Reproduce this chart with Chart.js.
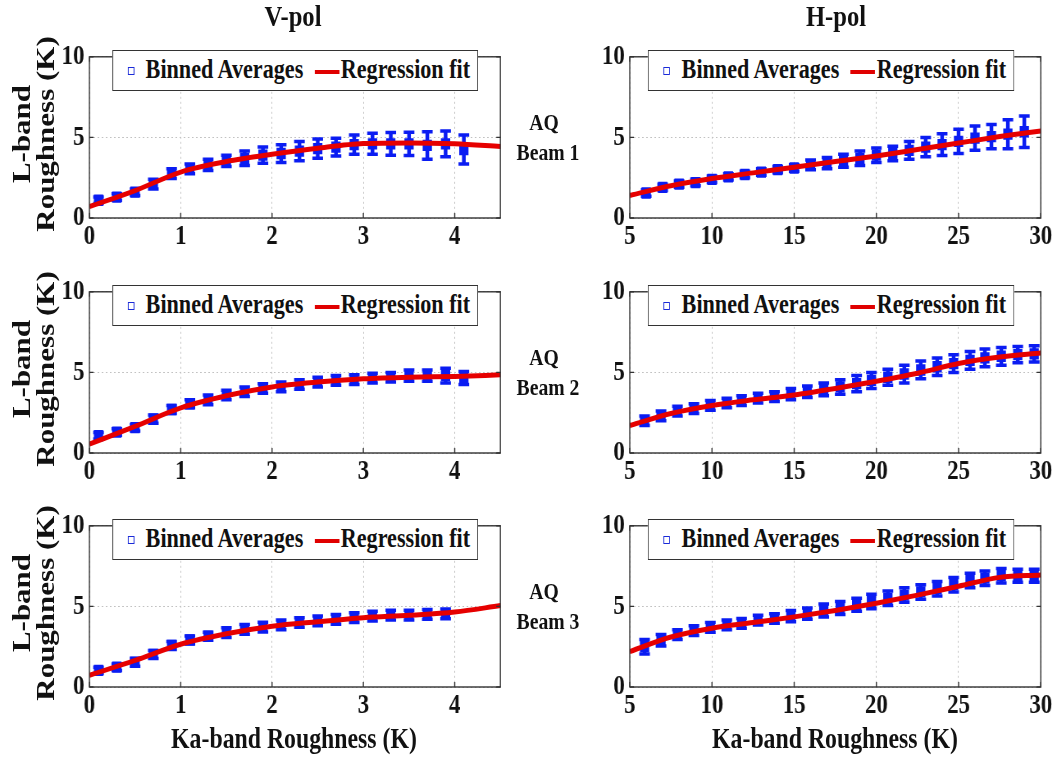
<!DOCTYPE html>
<html>
<head>
<meta charset="utf-8">
<script src="https://cdn.jsdelivr.net/npm/chart.js@4.4.1/dist/chart.umd.min.js"></script>
<style>
  html, body { margin: 0; padding: 0; background: #fff; overflow: hidden; }
  #fig { position: relative; height: 761px; transform: scaleX(0.82); transform-origin: 0 0; }
  .panel { position: absolute; }
  .txt { position: absolute; white-space: nowrap; font-family: 'Liberation Serif', 'Times New Roman', serif; font-weight: bold; color: #111; }
  .legend { position: absolute; background: #fff; border: 1px solid #333; box-sizing: border-box; }
  .legend .mk { position: absolute; width: 6px; height: 6px; border: 1px solid #1a2ad8; }
  .legend .ln { position: absolute; height: 4px; background: #e00000; }
</style>
</head>
<body>
<div id="fig"></div>
<script>
// V-pol bins (Ka-band roughness, K)
const vBinX12 = [0.1, 0.3, 0.5, 0.7, 0.9, 1.1, 1.3, 1.5, 1.7, 1.9, 2.1, 2.3, 2.5, 2.7, 2.9, 3.1, 3.3, 3.5, 3.7, 3.9, 4.1];
const vBinX3 = [0.1, 0.3, 0.5, 0.7, 0.9, 1.1, 1.3, 1.5, 1.7, 1.9, 2.1, 2.3, 2.5, 2.7, 2.9, 3.1, 3.3, 3.5, 3.7, 3.9];
const vB1Avg = [1.1, 1.3, 1.6, 2.1, 2.75, 3.05, 3.3, 3.55, 3.7, 3.9, 4.0, 4.15, 4.3, 4.4, 4.55, 4.6, 4.6, 4.6, 4.5, 4.6, 4.25];
const vB1Err = [0.2, 0.2, 0.2, 0.3, 0.3, 0.3, 0.35, 0.35, 0.45, 0.5, 0.55, 0.6, 0.6, 0.55, 0.6, 0.65, 0.7, 0.72, 0.85, 0.8, 0.9];
const vB2Avg = [1.07, 1.3, 1.57, 2.1, 2.7, 3.05, 3.3, 3.6, 3.8, 4.0, 4.1, 4.25, 4.4, 4.5, 4.55, 4.65, 4.7, 4.8, 4.8, 4.8, 4.65];
const vB2Err = [0.2, 0.2, 0.2, 0.25, 0.25, 0.25, 0.3, 0.3, 0.3, 0.3, 0.3, 0.3, 0.3, 0.3, 0.3, 0.3, 0.3, 0.35, 0.35, 0.45, 0.4];
const vB3Avg = [1.03, 1.23, 1.53, 2.02, 2.58, 2.92, 3.15, 3.37, 3.57, 3.71, 3.85, 4.0, 4.1, 4.2, 4.3, 4.4, 4.46, 4.46, 4.5, 4.54];
const vB3Err = [0.2, 0.2, 0.25, 0.25, 0.25, 0.25, 0.25, 0.3, 0.3, 0.3, 0.3, 0.3, 0.3, 0.3, 0.3, 0.3, 0.3, 0.3, 0.3, 0.3];
const vFitX = [0, 0.5, 1, 1.5, 2, 2.5, 3, 3.5, 4, 4.5];
const vB1Fit = [0.7, 1.7, 2.85, 3.5, 3.95, 4.33, 4.62, 4.66, 4.6, 4.43];
const vB2Fit = [0.55, 1.65, 2.8, 3.55, 4.1, 4.4, 4.6, 4.7, 4.75, 4.85];
const vB3Fit = [0.73, 1.65, 2.65, 3.3, 3.77, 4.05, 4.3, 4.45, 4.65, 5.05];

// H-pol bins
const hBinX1 = [6, 7, 8, 9, 10, 11, 12, 13, 14, 15, 16, 17, 18, 19, 20, 21, 22, 23, 24, 25, 26, 27, 28, 29];
const hBinX23 = [5.9, 6.9, 7.9, 8.9, 9.9, 10.9, 11.8, 12.8, 13.8, 14.8, 15.8, 16.8, 17.8, 18.8, 19.7, 20.7, 21.7, 22.7, 23.7, 24.7, 25.7, 26.6, 27.6, 28.6, 29.6];
const hB1Avg = [1.55, 1.9, 2.1, 2.2, 2.4, 2.55, 2.7, 2.85, 3.0, 3.1, 3.3, 3.4, 3.55, 3.7, 3.9, 4.0, 4.2, 4.4, 4.55, 4.75, 4.95, 5.05, 5.2, 5.35];
const hB1Err = [0.2, 0.2, 0.2, 0.2, 0.2, 0.2, 0.2, 0.2, 0.2, 0.2, 0.3, 0.35, 0.4, 0.45, 0.45, 0.45, 0.55, 0.6, 0.67, 0.75, 0.75, 0.75, 0.9, 0.97];
const hB2Avg = [2.0, 2.3, 2.6, 2.75, 2.95, 3.1, 3.25, 3.4, 3.5, 3.65, 3.8, 3.95, 4.1, 4.3, 4.5, 4.7, 4.9, 5.15, 5.35, 5.55, 5.75, 5.9, 6.0, 6.1, 6.15];
const hB2Err = [0.3, 0.3, 0.3, 0.3, 0.3, 0.3, 0.3, 0.3, 0.3, 0.35, 0.35, 0.4, 0.45, 0.5, 0.5, 0.5, 0.55, 0.55, 0.55, 0.55, 0.55, 0.55, 0.55, 0.5, 0.5];
const hB3Avg = [2.5, 2.9, 3.25, 3.5, 3.7, 3.85, 3.95, 4.15, 4.25, 4.4, 4.55, 4.75, 4.9, 5.1, 5.3, 5.5, 5.7, 5.9, 6.1, 6.35, 6.6, 6.75, 6.9, 6.9, 6.9];
const hB3Err = [0.45, 0.35, 0.3, 0.3, 0.3, 0.3, 0.3, 0.3, 0.3, 0.35, 0.35, 0.4, 0.4, 0.4, 0.45, 0.45, 0.45, 0.45, 0.45, 0.45, 0.45, 0.45, 0.45, 0.4, 0.4];
const hFitX = [5, 7.5, 10, 12.5, 15, 17.5, 20, 22.5, 25, 27.5, 30];
const hB1Fit = [1.4, 2.0, 2.45, 2.8, 3.15, 3.5, 3.85, 4.25, 4.65, 5.05, 5.4];
const hB2Fit = [1.7, 2.45, 2.95, 3.3, 3.6, 4.0, 4.45, 4.95, 5.55, 5.95, 6.2];
const hB3Fit = [2.2, 3.1, 3.65, 4.0, 4.35, 4.75, 5.2, 5.7, 6.25, 6.8, 6.95];

const yTicks = [0, 5, 10];
const seriesNames = ['Binned Averages', 'Regression fit'];
const colTitles = ['V-pol', 'H-pol'];
const beamNames = ['Beam 1', 'Beam 2', 'Beam 3'];

const BLUE = '#0a1cf2';
const RED = '#e60000';
const FONT = "'Liberation Serif', 'Times New Roman', serif";
const SQ = 0.82; // whole figure is squeezed sideways like the original

const fig = document.getElementById('fig');
fig.style.width = (1059 / SQ) + 'px';

// plot area size on screen
const PW = 411, PH = 168;
const YW = 55, XH = 36, PADT = 16, PADR = 26;

const panels = [
  { left: 89, top: 50, xmin: 0, xmax: 4.5, step: 1, x: vBinX12, avg: vB1Avg, err: vB1Err, fx: vFitX, fit: vB1Fit },
  { left: 630, top: 50, xmin: 5, xmax: 30, step: 5, x: hBinX1, avg: hB1Avg, err: hB1Err, fx: hFitX, fit: hB1Fit },
  { left: 89, top: 285, xmin: 0, xmax: 4.5, step: 1, x: vBinX12, avg: vB2Avg, err: vB2Err, fx: vFitX, fit: vB2Fit },
  { left: 630, top: 285, xmin: 5, xmax: 30, step: 5, x: hBinX23, avg: hB2Avg, err: hB2Err, fx: hFitX, fit: hB2Fit },
  { left: 89, top: 519, xmin: 0, xmax: 4.5, step: 1, x: vBinX3, avg: vB3Avg, err: vB3Err, fx: vFitX, fit: vB3Fit },
  { left: 630, top: 519, xmin: 5, xmax: 30, step: 5, x: hBinX23, avg: hB3Avg, err: hB3Err, fx: hFitX, fit: hB3Fit }
];

// error bars with caps, under the markers
const errorBars = {
  id: 'errorBars',
  beforeDatasetsDraw(chart, args, opts) {
    const ctx = chart.ctx;
    const meta = chart.getDatasetMeta(0);
    const ys = chart.scales.y;
    const data = chart.data.datasets[0].data;
    ctx.save();
    ctx.strokeStyle = BLUE;
    meta.data.forEach((pt, i) => {
      const e = opts.err[i];
      const t = ys.getPixelForValue(data[i].y + e);
      const b = ys.getPixelForValue(data[i].y - e);
      ctx.lineWidth = 4.5;
      ctx.beginPath();
      ctx.moveTo(pt.x, t); ctx.lineTo(pt.x, b);
      ctx.stroke();
      ctx.lineWidth = 3.5;
      ctx.beginPath();
      ctx.moveTo(pt.x - 6.5, t); ctx.lineTo(pt.x + 6.5, t);
      ctx.moveTo(pt.x - 6.5, b); ctx.lineTo(pt.x + 6.5, b);
      ctx.stroke();
    });
    ctx.restore();
  }
};

// axes box with small inward ticks
const frame = {
  id: 'frame',
  afterDraw(chart) {
    const { ctx, chartArea: a, scales } = chart;
    ctx.save();
    ctx.strokeStyle = '#333';
    ctx.lineWidth = 1.4;
    ctx.strokeRect(a.left, a.top, a.right - a.left, a.bottom - a.top);
    ctx.beginPath();
    scales.x.ticks.forEach(t => {
      const px = scales.x.getPixelForValue(t.value);
      ctx.moveTo(px, a.bottom); ctx.lineTo(px, a.bottom - 5);
      ctx.moveTo(px, a.top); ctx.lineTo(px, a.top + 5);
    });
    scales.y.ticks.forEach(t => {
      const py = scales.y.getPixelForValue(t.value);
      ctx.moveTo(a.left, py); ctx.lineTo(a.left + 5, py);
      ctx.moveTo(a.right, py); ctx.lineTo(a.right - 5, py);
    });
    ctx.stroke();
    ctx.restore();
  }
};

const tickFont = { family: FONT, size: 28, weight: 'bold' };

panels.forEach(p => {
  const wrap = document.createElement('div');
  wrap.className = 'panel';
  wrap.style.left = (p.left / SQ - YW) + 'px';
  wrap.style.top = (p.top - PADT) + 'px';
  wrap.style.width = (PW / SQ + YW + PADR) + 'px';
  wrap.style.height = (PH + PADT + XH) + 'px';
  const cv = document.createElement('canvas');
  wrap.appendChild(cv);
  fig.appendChild(wrap);

  new Chart(cv, {
    type: 'scatter',
    data: {
      datasets: [
        {
          label: seriesNames[0],
          data: p.x.map((v, i) => ({ x: v, y: p.avg[i] })),
          pointStyle: 'rect',
          pointRadius: 8,
          backgroundColor: BLUE,
          borderColor: BLUE,
          borderWidth: 0,
          order: 2
        },
        {
          label: seriesNames[1],
          data: p.fx.map((v, i) => ({ x: v, y: p.fit[i] })),
          showLine: true,
          borderColor: RED,
          borderWidth: 5,
          pointRadius: 0,
          cubicInterpolationMode: 'monotone',
          order: 1
        }
      ]
    },
    options: {
      responsive: true,
      maintainAspectRatio: false,
      animation: false,
      events: [],
      layout: { padding: { top: PADT, right: PADR, left: 0, bottom: 0 } },
      plugins: {
        legend: { display: false },
        tooltip: { enabled: false },
        errorBars: { err: p.err }
      },
      scales: {
        x: {
          type: 'linear',
          min: p.xmin,
          max: p.xmax,
          ticks: { stepSize: p.step, includeBounds: false, padding: 2, font: tickFont, color: '#111', maxRotation: 0 },
          grid: { color: '#c2c2c2', drawTicks: false },
          border: { display: false, dash: [2, 3] },
          afterFit(s) { s.height = XH; }
        },
        y: {
          min: 0,
          max: 10,
          afterBuildTicks(s) { s.ticks = yTicks.map(v => ({ value: v })); },
          ticks: { padding: 6, font: tickFont, color: '#111' },
          grid: { color: '#c2c2c2', drawTicks: false },
          border: { display: false, dash: [2, 3] },
          afterFit(s) { s.width = YW; }
        }
      }
    },
    plugins: [errorBars, frame]
  });

  // legend box inside the top of the plot
  const lg = document.createElement('div');
  lg.className = 'legend';
  const lgLeft = p.left + (p.left < 300 ? 23 : 18);
  lg.style.left = (lgLeft / SQ) + 'px';
  lg.style.top = p.top + 'px';
  lg.style.width = (366 / SQ) + 'px';
  lg.style.height = '41px';
  lg.innerHTML =
    '<div class="mk" style="left:18px;top:16px"></div>' +
    '<div class="txt" style="left:40px;top:3px;font-size:27px">' + seriesNames[0] + '</div>' +
    '<div class="ln" style="left:246px;top:19px;width:30px"></div>' +
    '<div class="txt" style="left:278px;top:3px;font-size:27px">' + seriesNames[1] + '</div>';
  fig.appendChild(lg);
});

// free text, centred on a screen point
function label(text, cx, cy, size, rot) {
  const d = document.createElement('div');
  d.className = 'txt';
  d.textContent = text;
  d.style.fontSize = size + 'px';
  d.style.left = (cx / SQ) + 'px';
  d.style.top = cy + 'px';
  d.style.transform = 'translate(-50%, -50%)' + (rot ? ' rotate(' + rot + 'deg)' : '');
  fig.appendChild(d);
}

label(colTitles[0], 293, 16, 30);
label(colTitles[1], 836, 16, 30);

[50, 285, 519].forEach((top, i) => {
  const mid = top + PH / 2;
  label('L-band', 21, mid, 31, -90);
  label('Roughness (K)', 46, mid, 31, -90);
  label('AQ', 544, top + 72, 24);
  label(beamNames[i], 548, top + 102, 24);
});

label('Ka-band Roughness (K)', 294, 738, 29);
label('Ka-band Roughness (K)', 835, 738, 29);
</script>
</body>
</html>
